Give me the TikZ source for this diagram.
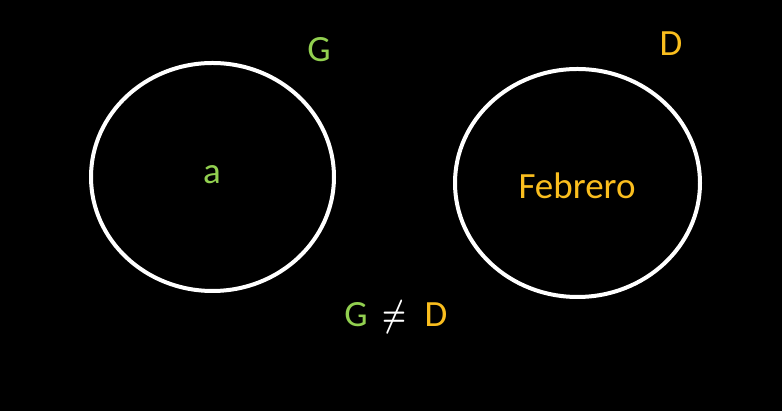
\documentclass[tikz,border=0pt]{standalone}
\usepackage{fontspec}
\setmainfont{Carlito}
\definecolor{gverde}{RGB}{146,208,80}
\definecolor{dnaranja}{RGB}{250,190,30}

\begin{document}
\begin{tikzpicture}[x=1pt,y=1pt,font=\fontsize{37}{42}\selectfont]
	\fill[black] (0,0) rectangle (782,411);
	\useasboundingbox (0,0) rectangle (782,411);
	\draw[white,line width=4pt] (212.5,234) ellipse (121.5 and 114);
	\draw[white,line width=4pt] (577.5,228) ellipse (122.5 and 114);
	\path (319,361) node [text=gverde] (nomG) {G};
	\path (671,367) node [text=dnaranja] (nomD) {D};
	\path (212,236) node [text=gverde] (elemA) {a};
	\path (577,225) node [text=dnaranja] (elemF) {Febrero};
	\path (356,96) node [text=gverde] (relG) {G};
	\path (394,94) node [text=white,xscale=1.1,yscale=1.5] (relNeq) {\mbox{\boldmath$\neq$}};
	\path (436,96) node [text=dnaranja] (relD) {D};
\end{tikzpicture}
\end{document}
